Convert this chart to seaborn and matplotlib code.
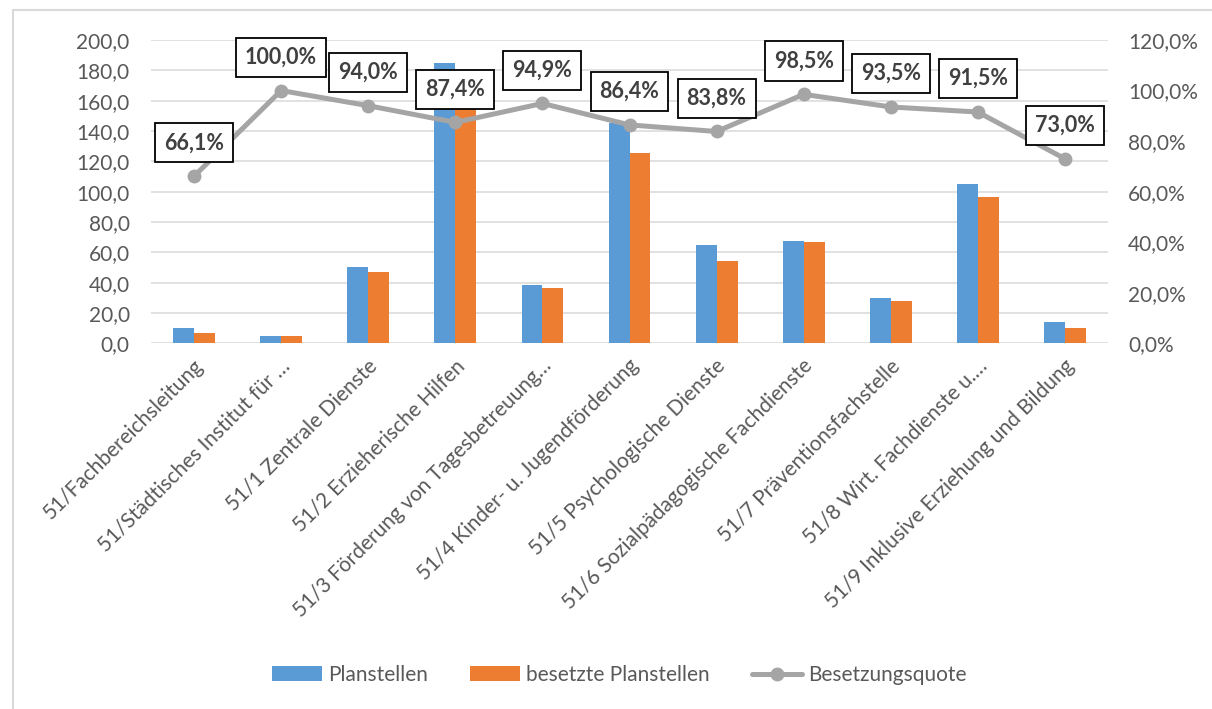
import numpy as np
import pandas as pd
import seaborn as sns
import matplotlib.pyplot as plt
from matplotlib.patches import Patch
from matplotlib.lines import Line2D
from matplotlib.ticker import FuncFormatter, MultipleLocator
import matplotlib.transforms as mtransforms

# Organisational units of department 51
bereiche = [
    "51/Fachbereichsleitung",
    "51/Städtisches Institut für …",
    "51/1 Zentrale Dienste",
    "51/2 Erzieherische Hilfen",
    "51/3 Förderung von Tagesbetreuung…",
    "51/4 Kinder- u. Jugendförderung",
    "51/5 Psychologische Dienste",
    "51/6 Sozialpädagogische Fachdienste",
    "51/7 Präventionsfachstelle",
    "51/8 Wirt. Fachdienste u.…",
    "51/9 Inklusive Erziehung und Bildung",
]
planstellen = [10.3, 5.0, 50.0, 184.5, 38.7, 145.0, 65.0, 67.7, 30.1, 105.3, 14.3]
besetzt = [6.8, 5.0, 47.0, 161.3, 36.7, 125.3, 54.5, 66.7, 28.1, 96.3, 10.4]
quote = [66.1, 100.0, 94.0, 87.4, 94.9, 86.4, 83.8, 98.5, 93.5, 91.5, 73.0]

C_PLAN = "#5B9BD5"
C_BES = "#ED7D31"
C_QUOTE = "#A5A5A5"
C_TEXT = "#595959"
C_GRID = "#D9D9D9"
FS = 15

sns.set_theme(style="white")
plt.rcParams["font.family"] = ["Lato", "DejaVu Sans"]

df = pd.DataFrame({
    "Bereich": bereiche * 2,
    "Wert": planstellen + besetzt,
    "Serie": ["Planstellen"] * len(bereiche) + ["besetzte Planstellen"] * len(bereiche),
})

fig = plt.figure(figsize=(12.12, 7.09), dpi=100)
ax = fig.add_axes([0.1242, 0.5158, 0.7904, 0.4278])

sns.barplot(data=df, x="Bereich", y="Wert", hue="Serie", order=bereiche,
            palette=[C_PLAN, C_BES], width=0.48, saturation=1,
            linewidth=0, ax=ax, legend=False, zorder=3)

ax.set_ylim(0, 200)
ax.set_xlim(-0.5, len(bereiche) - 0.5)
ax.yaxis.set_major_locator(MultipleLocator(20))
ax.yaxis.set_major_formatter(FuncFormatter(lambda v, _: f"{v:.1f}".replace(".", ",")))
ax.grid(axis="y", color=C_GRID, linewidth=1.1, zorder=0)
ax.set_axisbelow(True)
for s in ax.spines.values():
    s.set_visible(False)
ax.set_xlabel("")
ax.set_ylabel("")
ax.tick_params(axis="y", length=0, pad=15, labelsize=FS, labelcolor=C_TEXT)
ax.tick_params(axis="x", length=0, pad=14, labelsize=FS, labelcolor=C_TEXT)
ax.set_xticks(range(len(bereiche)))
ax.set_xticklabels(bereiche, rotation=45, ha="right", va="center",
                   rotation_mode="anchor")
shift = mtransforms.ScaledTranslation(6 / 100, 0, fig.dpi_scale_trans)
for lbl in ax.get_xticklabels():
    lbl.set_transform(lbl.get_transform() + shift)

# Occupancy rate on the secondary axis
ax2 = ax.twinx()
x = np.arange(len(bereiche))
sns.lineplot(x=x, y=quote, ax=ax2, color=C_QUOTE, linewidth=3.6,
             marker="o", markersize=10, markeredgewidth=0, zorder=4)
ax2.set_ylim(0, 120)
ax2.set_xlim(-0.5, len(bereiche) - 0.5)
ax2.yaxis.set_major_locator(MultipleLocator(20))
ax2.yaxis.set_major_formatter(FuncFormatter(lambda v, _: f"{v:.1f}%".replace(".", ",")))
ax2.tick_params(axis="y", length=0, pad=14, labelsize=FS, labelcolor=C_TEXT)
for s in ax2.spines.values():
    s.set_visible(False)
ax2.grid(False)
ax2.set_ylabel("")

for xi, q in zip(x, quote):
    ax2.annotate(f"{q:.1f}%".replace(".", ","), (xi, q), xytext=(0, 24),
                 textcoords="offset points", ha="center", va="center",
                 fontsize=15.5, fontweight="bold", color="#404040", zorder=6,
                 bbox=dict(boxstyle="square,pad=0.42", fc="white",
                           ec="black", lw=1.3))

handles = [
    Patch(facecolor=C_PLAN, edgecolor="none", label="Planstellen"),
    Patch(facecolor=C_BES, edgecolor="none", label="besetzte Planstellen"),
    Line2D([0], [0], color=C_QUOTE, lw=3.6, marker="o", markersize=10,
           markeredgewidth=0, label="Besetzungsquote"),
]
fig.legend(handles=handles, loc="center", bbox_to_anchor=(0.511, 0.048),
           ncol=3, frameon=False, fontsize=FS, labelcolor=C_TEXT,
           handlelength=2.4, handleheight=0.7, handletextpad=0.3,
           columnspacing=2.0)

# Thin frame along the top and left edge
fig.add_artist(Line2D([13 / 1212, 13 / 1212], [0, 1 - 10 / 709],
                      transform=fig.transFigure, color=C_GRID, lw=1.5))
fig.add_artist(Line2D([13 / 1212, 1], [1 - 10 / 709, 1 - 10 / 709],
                      transform=fig.transFigure, color=C_GRID, lw=1.5))

fig.savefig("out.png", dpi=100, facecolor="white")
